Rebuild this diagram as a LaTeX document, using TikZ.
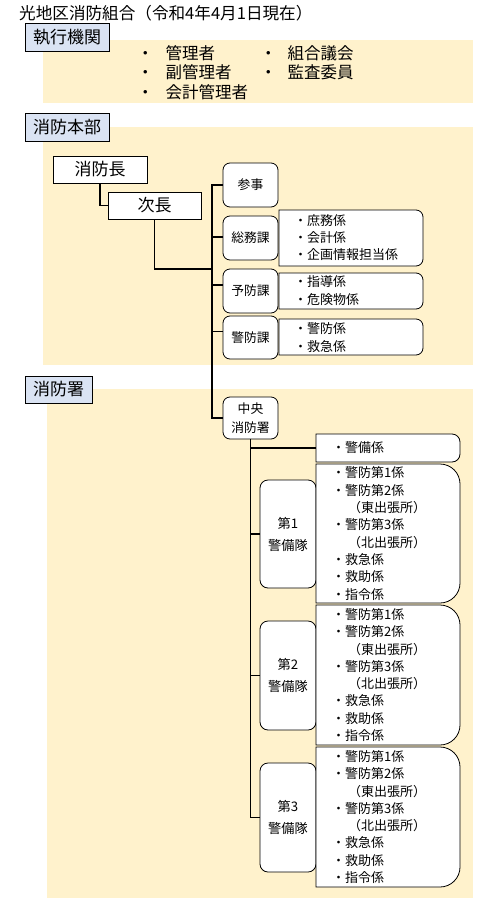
\documentclass[tikz,border=0pt]{standalone}
\usepackage{fontspec}
\setmainfont{Noto Sans CJK JP}
\definecolor{beige}{HTML}{FFF2CC}
\definecolor{lblue}{HTML}{DAE3F3}
\newcommand\halfbox[5]{\filldraw[listbox] (#1,#2) -- ({#3-#5},#2) arc[start angle=90,end angle=0,radius=#5pt] -- (#3,{#4-#5}) arc[start angle=0,end angle=-90,radius=#5pt] -- (#1,#4) -- cycle;}
\newcommand\tailist{・警防第1係\\・警防第2係\\\hspace{16pt}（東出張所）\\・警防第3係\\\hspace{16pt}（北出張所）\\・救急係\\・救助係\\・指令係}
\begin{document}
\begin{tikzpicture}[x=1pt,y=-1pt,
  sec/.style={draw, fill=lblue, line width=0.9pt, font=\fontsize{17}{20}\selectfont, inner sep=0pt, minimum height=28pt},
  head/.style={draw, fill=white, line width=0.9pt, font=\fontsize{17}{20}\selectfont, inner sep=0pt, minimum height=27pt},
  unit/.style={draw, fill=white, rounded corners=7pt, line width=0.8pt, minimum width=55pt, font=\fontsize{12.8}{19}\selectfont, align=center, inner sep=0pt},
  listbox/.style={draw, fill=white, line width=0.8pt},
  items/.style={font=\fontsize{13}{17.3}\selectfont, align=left, anchor=west, inner sep=0pt},
  exec/.style={font=\fontsize{16.5}{19}\selectfont, anchor=west, inner sep=0pt},
  conn/.style={line width=1.1pt},
  bgarea/.style={fill=beige}]
\useasboundingbox (0,0) rectangle (489,905);
% background areas
\fill[bgarea] (43,40) rectangle (473,103);
\fill[bgarea] (43,127) rectangle (473,365);
\fill[bgarea] (47,389) rectangle (473,898);
% title
\node[font=\fontsize{16.6}{19}\selectfont, anchor=west, inner sep=0pt] (title) at (19,13) {光地区消防組合（令和4年4月1日現在）};
% section labels
\node[sec, minimum width=84pt] (shikko) at (67,37.5) {執行機関};
\node[sec, minimum width=84pt] (honbu) at (67,127.5) {消防本部};
\node[sec, minimum width=67pt, minimum height=27pt] (sho) at (58.5,389.5) {消防署};
% executive list
\node[exec] (e1) at (137,53) {・\hspace{12pt}管理者};
\node[exec] (e2) at (137,72.5) {・\hspace{12pt}副管理者};
\node[exec] (e3) at (137,92) {・\hspace{12pt}会計管理者};
\node[exec] (e4) at (260,53) {・\hspace{11pt}組合議会};
\node[exec] (e5) at (260,72.5) {・\hspace{11pt}監査委員};
% head nodes
\node[head, minimum width=94pt] (cho) at (100,169.5) {消防長};
\node[head, minimum width=93pt] (jicho) at (154.5,205.5) {次長};
% units
\node[unit, minimum height=44pt] (sanji) at (250.5,185) {参事};
\node[unit, minimum height=44pt] (somu) at (250.5,238) {総務課};
\node[unit, minimum height=44pt] (yobo) at (250.5,291) {予防課};
\node[unit, minimum height=43pt] (keibo) at (250.5,337.5) {警防課};
\node[unit, minimum height=42pt] (chuo) at (250.5,418) {中央\\消防署};
% connectors
\coordinate (tk) at (212,269);
\coordinate (kbL) at (316,448);
\draw[conn] (cho.south) |- (jicho.west);
\draw[conn] (jicho.south) |- (tk);
\draw[conn] (sanji.west) -- (sanji.west -| tk) -- (chuo.west -| tk) -- (chuo.west);
\draw[conn] ([yshift=1pt]somu.west) -- ([yshift=1pt]somu.west -| tk);
\draw[conn] ([yshift=6pt]yobo.west) -- ([yshift=6pt]yobo.west -| tk);
\draw[conn] ([yshift=6pt]keibo.west) -- ([yshift=6pt]keibo.west -| tk);
% detail boxes
\halfbox{279}{210}{423}{266}{7}
\halfbox{279}{273}{423}{309}{7}
\halfbox{279}{319}{423}{355}{7}
\node[items, font=\fontsize{13}{17}\selectfont] (somuL) at (294,238) {・庶務係\\・会計係\\・企画情報担当係};
\node[items, font=\fontsize{13}{17.5}\selectfont] (yoboL) at (294,290.5) {・指導係\\・危険物係};
\node[items, font=\fontsize{13}{18.5}\selectfont] (keiboL) at (294,337.5) {・警防係\\・救急係};
% fire station
\node[unit, minimum width=56pt, minimum height=108pt, rounded corners=8pt, font=\fontsize{13.2}{22}\selectfont] (d1) at (288,534) {第1\\警備隊};
\node[unit, minimum width=56pt, minimum height=109pt, rounded corners=8pt, font=\fontsize{13.2}{22}\selectfont] (d2) at (288,675.5) {第2\\警備隊};
\node[unit, minimum width=56pt, minimum height=109pt, rounded corners=8pt, font=\fontsize{13.2}{22}\selectfont] (d3) at (288,817.5) {第3\\警備隊};
\draw[conn] (chuo.south) -- (chuo.south |- d3.west) -- (d3.west);
\draw[conn] (chuo.south |- kbL) -- (kbL);
\draw[conn] (chuo.south |- d1.west) -- (d1.west);
\draw[conn] (chuo.south |- d2.west) -- (d2.west);
\halfbox{316}{434}{460}{462}{8}
\halfbox{316}{464}{460}{603}{20}
\halfbox{316}{605}{460}{745}{20}
\halfbox{316}{747}{460}{887}{20}
\node[items] (kb) at (332,448) {・警備係};
\node[items] (l1) at (332,533.5) {\tailist};
\node[items] (l2) at (332,675) {\tailist};
\node[items] (l3) at (332,817) {\tailist};
\end{tikzpicture}
\end{document}
